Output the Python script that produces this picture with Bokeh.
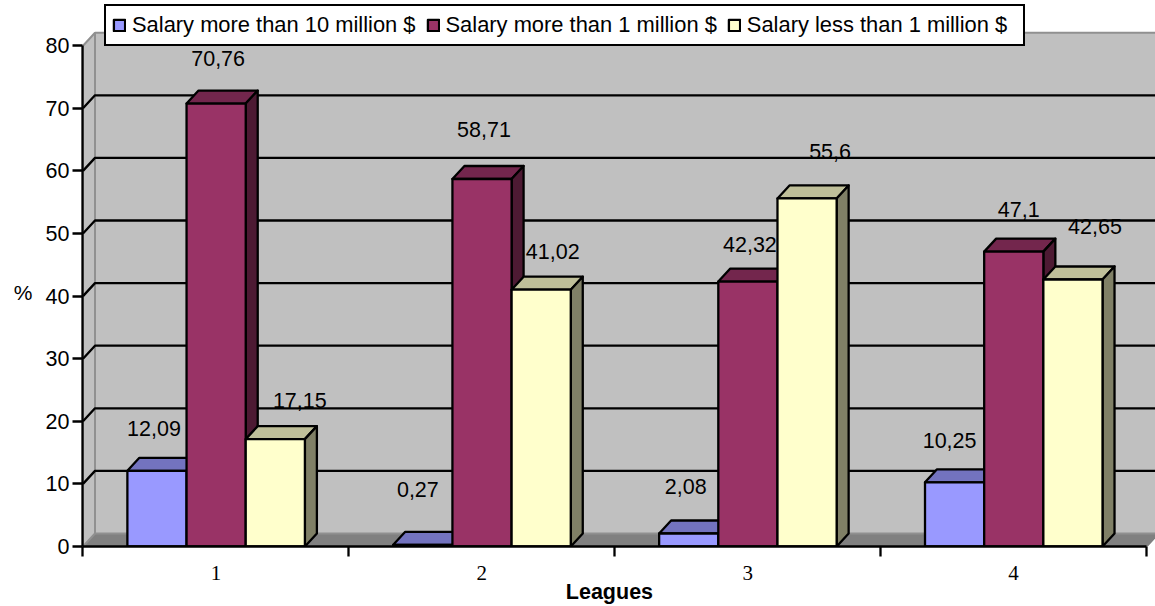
from bokeh.plotting import figure
from bokeh.embed import file_html
from bokeh.resources import INLINE
from bokeh.models import ColumnDataSource, FixedTicker, Legend, LegendItem, LinearAxis, Range1d
from bokeh.core.properties import value

leagues = ["1", "2", "3", "4"]
y_ticks = [0, 10, 20, 30, 40, 50, 60, 70, 80]
series_names = ["Salary more than 10 million $", "Salary more than 1 million $", "Salary less than 1 million $"]
over_10m = [12.09, 0.27, 2.08, 10.25]
over_1m = [70.76, 58.71, 42.32, 47.1]
under_1m = [17.15, 41.02, 55.6, 42.65]
label_over_10m = ["12,09", "0,27", "2,08", "10,25"]
label_over_1m = ["70,76", "58,71", "42,32", "47,1"]
label_under_1m = ["17,15", "41,02", "55,6", "42,65"]

front = ["#9999FF", "#993366", "#FFFFCC"]
top = ["#7373BF", "#73264D", "#BFBF99"]
side = ["#4D4D80", "#4D1A33", "#808066"]
WALL = "#C0C0C0"
WALL_EDGE = "#909090"
FLOOR = "#808080"
FONT = "Liberation Sans"
FS = "21.5px"
LW = 2.3

# pixel-to-data factors of the projection
PX_X = 266.0
PX_Y = 6.26
DX = 12 / PX_X
DY = 13 / PX_Y
BAR_W = 59.2 / PX_X
GAP = 44.4 / PX_X
# label nudges in px (dx, dy) relative to the top centre of each bar
nudges = [
    [(-3, -42.5), (-5, -55.5), (-3, -46.5), (-5, -41.5)],
    [(2, -45.5), (2, -49.5), (2, -37.5), (5, -42.5)],
    [(24.5, -38.5), (11.5, -38), (23, -46.5), (22, -53.5)],
]

FIG_W, FIG_H = 1155, 606
LEFT, BOTTOM = 82, 60
x_end = (FIG_W - LEFT) / PX_X
y_end = (FIG_H - BOTTOM) / PX_Y

p = figure(width=FIG_W, height=FIG_H, output_backend="svg", toolbar_location=None,
           frame_width=FIG_W - LEFT, frame_height=FIG_H - BOTTOM,
           x_range=Range1d(-0.5 / PX_X, x_end), y_range=Range1d(0, y_end),
           min_border_left=LEFT, min_border_right=0, min_border_top=0, min_border_bottom=BOTTOM,
           background_fill_color="white", border_fill_color="white", outline_line_color=None)
p.grid.visible = False

# axes
ax = p.xaxis[0]
ax.ticker = FixedTicker(ticks=[i + 0.5 for i in range(len(leagues))], minor_ticks=list(range(len(leagues) + 1)))
ax.major_label_overrides = {i + 0.5: t for i, t in enumerate(leagues)}
ax.bounds = (0, len(leagues))
ax.major_tick_line_color = None
ax.minor_tick_in = 0
ax.minor_tick_out = 10
ax.minor_tick_line_color = "black"
ax.minor_tick_line_width = LW
ax.axis_line_color = "black"
ax.axis_line_width = LW
ax.major_label_text_font = "Liberation Serif"
ax.major_label_text_font_size = "21px"
ax.major_label_text_color = "black"
ax.major_label_standoff = 9

ay = p.yaxis[0]
ay.ticker = FixedTicker(ticks=y_ticks)
ay.bounds = (0, y_ticks[-1])
ay.major_tick_in = 0
ay.major_tick_out = 10
ay.major_tick_line_color = "black"
ay.major_tick_line_width = LW
ay.minor_tick_line_color = None
ay.axis_line_color = "black"
ay.axis_line_width = LW
ay.major_label_text_font = FONT
ay.major_label_text_font_size = FS
ay.major_label_text_color = "black"
ay.major_label_standoff = 3

# axis titles sit off the frame centre: each is the single label of an outer axis
LEAGUES_AT = 1.98
PERCENT_AT = 40.6
title_x = LinearAxis(ticker=FixedTicker(ticks=[LEAGUES_AT]), major_label_overrides={LEAGUES_AT: "Leagues"},
                     axis_line_color=None, major_tick_line_color=None, minor_tick_line_color=None,
                     major_tick_in=0, major_tick_out=0, minor_tick_in=0, minor_tick_out=0,
                     major_label_text_font=FONT, major_label_text_font_style="bold",
                     major_label_text_font_size=FS, major_label_text_color="black", major_label_standoff=-3)
p.add_layout(title_x, "below")
title_y = LinearAxis(ticker=FixedTicker(ticks=[PERCENT_AT]), major_label_overrides={PERCENT_AT: "%"},
                     axis_line_color=None, major_tick_line_color=None, minor_tick_line_color=None,
                     major_tick_in=0, major_tick_out=0, minor_tick_in=0, minor_tick_out=0,
                     major_label_text_font=FONT, major_label_text_font_size="21px",
                     major_label_text_color="black", major_label_standoff=10)
p.add_layout(title_y, "left")

n = len(leagues)
top_val = y_ticks[-1]
back_right = x_end + DX
# floor, then the walls
p.patch([0, DX, n + DX, n], [0, DY, DY, 0], fill_color=FLOOR, line_color=FLOOR, line_width=2)
p.patch([0, DX, DX, 0], [0, DY, top_val + DY, top_val], fill_color=WALL, line_color=WALL_EDGE, line_width=2)
p.patch([DX, back_right, back_right, DX], [DY, DY, top_val + DY, top_val + DY], fill_color=WALL, line_color=WALL_EDGE, line_width=2)

# gridlines run across the side wall and the back wall
grid_xs = [[0, DX, back_right] for t in y_ticks[1:-1]]
grid_ys = [[t, t + DY, t + DY] for t in y_ticks[1:-1]]
p.multi_line(grid_xs, grid_ys, line_color="black", line_width=LW)

all_series = [over_10m, over_1m, under_1m]
all_labels = [label_over_10m, label_over_1m, label_under_1m]
legend_items = []
for s, vals in enumerate(all_series):
    lefts = [k + GAP + s * BAR_W for k in range(n)]
    rights = [l + BAR_W for l in lefts]
    centers = [l + BAR_W / 2 for l in lefts]
    # top face
    p.patches([[l, l + DX, r + DX, r] for l, r in zip(lefts, rights)],
              [[v, v + DY, v + DY, v] for v in vals],
              fill_color=top[s], line_color="black", line_width=LW, line_join="round")
    # side face
    p.patches([[r, r + DX, r + DX, r] for r in rights],
              [[0, DY, v + DY, v] for v in vals],
              fill_color=side[s], line_color="black", line_width=LW, line_join="round")
    # front face
    src = ColumnDataSource(dict(x=centers, top=vals))
    r_bar = p.vbar(x="x", top="top", bottom=0, width=BAR_W, source=src,
                   fill_color=front[s], line_color="black", line_width=LW, line_join="round")
    legend_items.append(LegendItem(label=series_names[s], renderers=[r_bar]))

# data labels above all the bars
for s, vals in enumerate(all_series):
    lefts = [k + GAP + s * BAR_W for k in range(n)]
    centers = [l + BAR_W / 2 for l in lefts]
    src = ColumnDataSource(dict(x=centers, y=vals, text=all_labels[s],
                                ox=[d[0] for d in nudges[s]], oy=[d[1] for d in nudges[s]]))
    p.text(x="x", y="y", text="text", x_offset="ox", y_offset="oy", source=src,
           text_font=value(FONT), text_font_size=FS, text_color="black",
           text_align="center", text_baseline="middle")

legend = Legend(items=legend_items, orientation="horizontal", location=(22, 500),
                label_text_font=FONT, label_text_font_size="21.9px", label_text_color="black",
                glyph_width=14, glyph_height=14, label_standoff=6, spacing=10, padding=6, margin=0,
                border_line_color="black", border_line_width=2.3, background_fill_color="white",
                background_fill_alpha=1.0, border_line_alpha=1.0, label_height=24, label_width=270)
p.add_layout(legend, "center")

open("out.html", "w").write(file_html(p, INLINE))
